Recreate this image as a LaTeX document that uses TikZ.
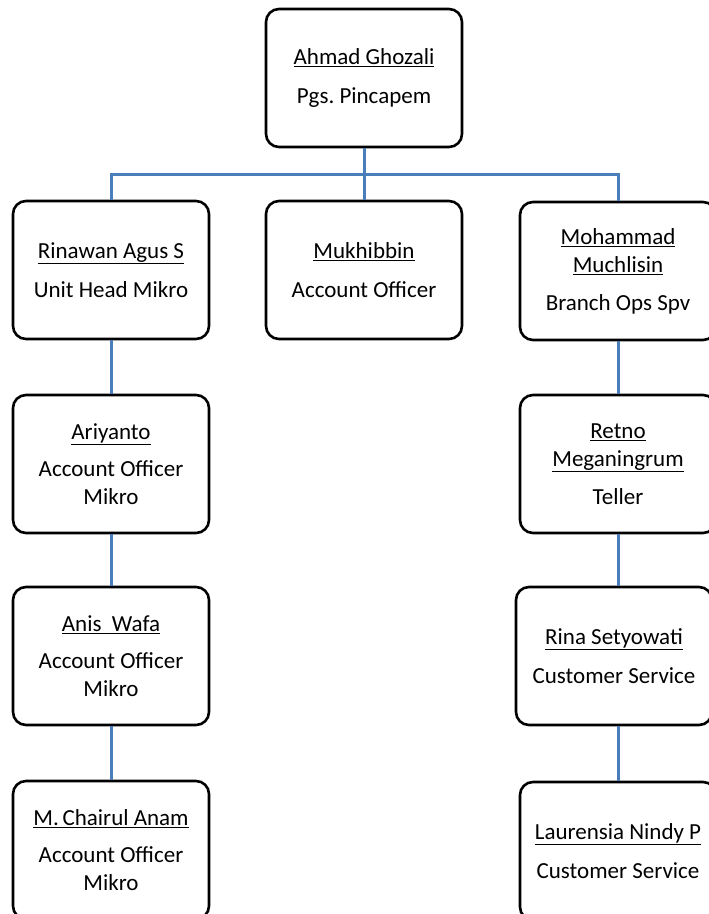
\documentclass[tikz,border=0pt]{standalone}
\usepackage{fontspec}
\setmainfont{Carlito}
\usetikzlibrary{calc}
\definecolor{linkblue}{RGB}{74,126,187}
\frenchspacing
\begin{document}
\begin{tikzpicture}[x=1pt,y=-1pt,
    person/.style={draw=black,line width=2.6pt,rounded corners=13pt,fill=white,
      minimum width=196pt,minimum height=138pt,inner sep=0pt,align=center,
      font={\fontsize{23pt}{28pt}\selectfont}},
    link/.style={draw=linkblue,line width=3pt}]
      \clip (0,0) rectangle (709,914);
      % top
      \node[person] (boss) at (364,78) {\underline{Ahmad Ghozali}\\[11pt]Pgs. Pincapem};
      % second row
      \node[person] (rinawan) at (111,270) {\underline{Rinawan Agus S}\\[11pt]Unit Head Mikro};
      \node[person] (mukhibbin) at (364,270) {\underline{Mukhibbin}\\[11pt]Account Officer};
      \node[person] (mohammad) at (618,271) {\underline{Mohammad}\\\underline{Muchlisin}\\[10pt]Branch Ops Spv};
      % left column
      \node[person] (ariyanto) at (111,464) {\underline{Ariyanto}\\[9pt]Account Officer\\Mikro};
      \node[person] (anis) at (111,656) {\underline{Anis\ \ Wafa}\\[9pt]Account Officer\\Mikro};
      \node[person] (chairul) at (111,850) {\underline{M.\,Chairul\ Anam}\\[9pt]Account Officer\\Mikro};
      % right column
      \node[person] (retno) at (618,464) {\underline{Retno}\\\underline{Meganingrum}\\[10pt]Teller};
      \node[person] (rina) at (614,656) {\underline{Rina Setyowati}\\[11pt]Customer Service};
      \node[person] (laurensia) at (618,851) {\underline{Laurensia Nindy P}\\[11pt]Customer Service};
      % connectors
      \coordinate (bus) at ($(boss.south)!0.5!(mukhibbin.north)$);
      \draw[link] (boss.south) -- (mukhibbin.north);
      \draw[link] (rinawan.north) |- (bus) -| (mohammad.north);
      \draw[link] (rinawan.south) -- (ariyanto.north);
      \draw[link] (ariyanto.south) -- (anis.north);
      \draw[link] (anis.south) -- (chairul.north);
      \draw[link] (mohammad.south) -- (retno.north);
      \draw[link] (retno.south) -- (retno.south |- rina.north);
      \draw[link] (retno.south |- rina.south) -- (laurensia.north);
\end{tikzpicture}
\end{document}
